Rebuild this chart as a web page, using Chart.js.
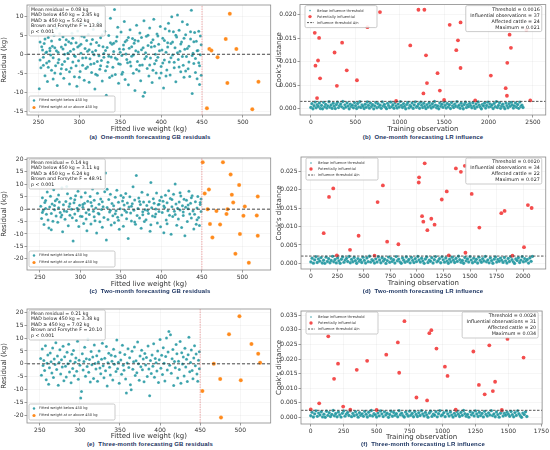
<!DOCTYPE html>
<html>
<head>
<meta charset="utf-8">
<script src="https://cdn.jsdelivr.net/npm/chart.js@4.4.1/dist/chart.umd.min.js"></script>
<style>
html, body { margin: 0; padding: 0; background: #fff; width: 550px; height: 450px; overflow: hidden; }
canvas { position: absolute; }
.cap { position: absolute; font: bold 6px "Liberation Sans", Arial, sans-serif; color: #1c3461;
       white-space: nowrap; transform: translate(-50%, -50%); letter-spacing: 0.15px; }
</style>
</head>
<body>
<canvas id="cA" width="275" height="134" style="left:0;top:0"></canvas>
<canvas id="cB" width="275" height="134" style="left:275px;top:0"></canvas>
<canvas id="cC" width="275" height="136" style="left:0;top:153px"></canvas>
<canvas id="cD" width="275" height="136" style="left:275px;top:152px"></canvas>
<canvas id="cE" width="275" height="137" style="left:0;top:304px"></canvas>
<canvas id="cF" width="275" height="136" style="left:275px;top:306px"></canvas>
<div class="cap" style="left:150px;top:137px">(a)&nbsp; One-month forecasting GB residuals</div>
<div class="cap" style="left:423px;top:137px">(b)&nbsp; One-month forecasting LR influence</div>
<div class="cap" style="left:150px;top:291px">(c)&nbsp; Two-month forecasting GB residuals</div>
<div class="cap" style="left:423px;top:291px">(d)&nbsp; Two-month forecasting LR influence</div>
<div class="cap" style="left:150px;top:444px">(e)&nbsp; Three-month forecasting GB residuals</div>
<div class="cap" style="left:423px;top:444px">(f)&nbsp; Three-month forecasting LR influence</div>
<script>
// ---- residual panels: [fitted weight kg, residual kg] ----
const belowA = [
  [251,-9.0],[252,3.2],[253,-3.5],[255,1.1],[256,-0.8],[257,2.8],[258,-5.6],[259,0.4],[254,6.2],[260,-2.3],
  [261,-7.1],[262,4.4],[263,-1.8],[264,0.9],[266,-4.2],[267,2.1],[268,-6.5],[269,5.0],[265,-0.2],[270,1.7],
  [271,-3.0],[272,6.8],[273,-8.2],[274,0.5],[275,-1.4],[276,3.9],[277,-5.1],[278,1.9],[279,-2.7],[280,4.6],
  [281,-6.3],[282,0.0],[283,2.5],[284,-4.0],[285,7.4],[286,-1.1],[287,3.3],[288,-7.8],[289,0.8],[290,-3.6],
  [291,5.5],[292,-2.0],[293,1.3],[294,-5.9],[295,-0.6],[296,3.0],[297,-8.4],[298,6.1],[299,-1.7],[300,2.2],
  [301,-4.5],[302,0.3],[303,4.8],[304,-2.9],[305,7.9],[306,-6.8],[307,1.5],[308,-0.9],[309,3.6],[310,-3.3],
  [311,5.2],[312,-7.3],[313,-1.2],[314,2.7],[315,-4.8],[316,0.6],[317,6.5],[318,-2.4],[319,-9.1],[320,1.0],
  [321,3.1],[322,-5.5],[323,8.3],[324,-0.4],[325,-3.9],[326,4.3],[327,-1.6],[328,-7.0],[329,2.0],[330,0.2],
  [331,6.0],[332,-4.3],[333,-10.7],[334,1.8],[335,-2.1],[336,4.9],[337,-6.1],[338,9.4],[339,-0.7],[340,2.6],
  [341,-3.4],[342,0.7],[343,11.7],[344,-5.3],[345,3.4],[346,-1.3],[347,7.1],[348,-7.6],[349,1.4],[350,-2.6],
  [351,5.8],[352,-0.3],[353,-4.7],[354,2.4],[355,8.6],[356,-6.6],[357,0.1],[358,3.7],[359,-2.2],[360,-8.0],
  [361,1.6],[362,6.4],[363,-3.1],[364,-0.5],[365,4.1],[366,-5.0],[367,2.9],[368,-9.5],[369,0.9],[370,7.6],
  [371,-1.9],[372,3.5],[373,-4.4],[374,5.6],[375,-6.9],[376,1.2],[377,-2.8],[378,-11.0],[379,8.8],[380,-10.0],
  [381,0.4],[382,4.7],[383,-3.7],[384,2.3],[385,-5.7],[386,6.9],[387,-1.0],[388,1.9],[389,-7.4],[390,3.8],
  [391,9.2],[392,-2.5],[393,0.0],[394,-4.9],[395,5.3],[396,-0.8],[397,2.6],[398,-6.2],[399,7.3],[400,-3.2],
  [401,1.1],[402,4.2],[403,-8.8],[404,-1.5],[405,6.7],[406,0.5],[407,-4.1],[408,3.0],[409,8.1],[410,-2.0],
  [411,-5.4],[412,2.8],[413,9.8],[414,-0.2],[415,5.9],[416,-3.5],[417,1.7],[418,-7.2],[419,4.5],[420,10.3],
  [421,-1.4],[422,6.3],[423,0.8],[424,-4.6],[425,3.2],[426,8.5],[427,-2.9],[428,-6.0],[429,1.3],[430,5.1],
  [431,-0.6],[432,7.8],[433,-3.8],[434,2.1],[435,-5.8],[436,4.0],[437,11.5],[438,-10.3],[439,0.3],[440,-2.4],
  [441,5.7],[442,-1.1],[443,3.4],[444,-6.4],[445,1.0],[446,6.0],[447,-3.0],[448,-0.1],[449,2.5],[447,-7.9],
  [252,-1.5],[254,2.0],[256,-2.9],[258,4.0],[260,0.6],[262,-3.4],[264,1.6],[266,3.5],[268,-0.9],[270,-4.9],
  [272,0.9],[274,-2.2],[276,5.4],[278,-3.8],[280,1.4],[282,-1.9],[284,3.8],[286,0.3],[288,-4.6],[290,2.9],
  [292,4.2],[294,-0.4],[296,-3.0],[298,1.9],[300,-6.0],[302,2.6],[304,-1.0],[306,4.5],[308,-3.7],[310,0.8],
  [312,1.2],[314,-2.6],[316,3.9],[318,-0.1],[320,-5.2],[322,-1.9],[324,2.3],[326,-3.0],[328,5.1],[330,-0.8],
  [332,1.0],[334,-3.2],[336,-0.5],[338,3.0],[340,-5.6],[342,2.9],[344,-1.0],[346,4.6],[348,-2.5],[350,0.5],
  [352,-5.2],[354,1.3],[356,3.3],[358,-1.4],[360,4.4],[362,-2.0],[364,2.0],[366,-0.2],[368,3.7],[370,-4.0],
  [372,0.6],[374,-2.9],[376,4.4],[378,1.7],[380,-1.2],[382,-0.6],[384,5.0],[386,-2.8],[388,3.1],[390,-4.2],
  [392,2.1],[394,-1.6],[396,4.8],[398,0.9],[400,-4.9],[402,-2.3],[404,3.6],[406,-5.7],[408,1.9],[410,6.1],
  [412,-0.9],[414,3.2],[416,-2.1],[418,5.0],[420,0.4],[422,-3.3],[424,2.7],[426,-0.6],[428,4.2],[430,-4.4],
  [432,1.5],[434,-2.0],[436,5.9],[438,-0.3],[440,3.3],[442,-4.8],[444,0.9],[446,-2.2],[448,4.8],[449,-5.5]
];
const aboveA = [
  [456,-14.1],[459,1.4],[461.5,1.0],[469,-0.8],[479,4.0],[481,-7.5],[484,10.6],[492,1.4],[511.5,-14.4],[519,-7.2]
];

const belowC = [
  [251,1.2],[252,-3.8],[253,4.6],[254,-0.5],[255,-6.2],[256,2.7],[257,0.3],[258,-2.1],[259,6.9],[260,-4.4],[253,-1.3],[257,3.5],
  [261,-7.6],[262,0.9],[263,5.2],[264,-1.7],[265,2.1],[266,-4.9],[267,7.8],[268,-0.2],[269,3.4],[270,-2.8],[264,-8.3],[268,1.5],
  [271,4.0],[272,-5.3],[273,0.6],[274,2.9],[275,-1.3],[276,-3.2],[277,8.6],[278,-9.1],[279,1.8],[280,-0.7],[273,5.7],[277,-2.4],
  [281,-4.1],[282,3.1],[283,-0.9],[284,6.2],[285,-6.7],[286,1.1],[287,-2.5],[288,4.4],[289,0.0],[290,-3.5],[283,9.1],[287,2.2],
  [291,-12.8],[292,2.6],[293,-1.9],[294,5.4],[295,-4.6],[296,0.4],[297,7.2],[298,-7.0],[299,1.6],[300,-2.9],[293,3.8],[297,-0.6],
  [301,4.9],[302,-3.0],[303,0.8],[304,-5.8],[305,2.4],[306,6.6],[307,-1.4],[308,-8.7],[309,3.2],[310,-0.3],[303,1.9],[307,-4.0],
  [311,-2.2],[312,5.1],[313,-6.0],[314,1.3],[315,8.1],[316,-0.8],[317,3.6],[318,-4.7],[319,0.5],[320,-9.6],[313,2.7],[317,-3.1],
  [321,6.4],[322,-1.6],[323,2.0],[324,-5.1],[325,4.1],[326,-0.1],[327,-7.3],[328,1.0],[329,-3.4],[330,7.0],[323,-2.0],[327,3.0],
  [331,14.6],[332,-12.4],[333,0.7],[334,-4.2],[335,3.9],[336,-1.1],[337,6.0],[338,-6.4],[339,2.3],[340,-2.7],[333,8.0],[337,-0.4],
  [341,1.4],[342,-5.5],[343,4.8],[344,-0.6],[345,7.6],[346,-3.3],[347,2.8],[348,-8.1],[349,0.2],[350,5.5],[343,-1.8],[347,-4.5],
  [351,-2.4],[352,3.3],[353,-6.9],[354,1.7],[355,-0.5],[356,6.3],[357,-3.9],[358,2.5],[359,-11.8],[360,0.9],[353,4.7],[357,-1.2],
  [361,5.0],[362,-1.5],[363,-4.8],[364,2.2],[365,9.0],[366,-0.4],[367,3.7],[368,-6.1],[369,13.6],[370,-2.6],[363,1.2],[367,-5.2],
  [371,0.3],[372,4.5],[373,-3.6],[374,1.9],[375,-7.7],[376,6.8],[377,-1.0],[378,2.9],[379,-5.0],[380,-0.2],[373,3.1],[377,-2.3],
  [381,-4.3],[382,1.5],[383,5.8],[384,-1.7],[385,3.0],[386,-8.9],[387,10.7],[388,0.6],[389,-2.8],[390,4.2],[383,-0.5],[387,-6.3],
  [391,2.4],[392,-3.1],[393,0.1],[394,6.5],[395,-5.6],[396,1.8],[397,-0.9],[398,3.5],[399,-7.1],[400,4.9],[393,-2.0],[397,2.0],
  [401,-1.3],[402,3.2],[403,-9.5],[404,0.7],[405,5.6],[406,-4.4],[407,2.6],[408,-0.6],[409,7.4],[410,-2.5],[403,1.3],[407,-5.9],
  [411,4.3],[412,-10.1],[413,1.0],[414,-3.0],[415,6.0],[416,-0.8],[417,10.1],[418,2.1],[419,-6.5],[420,0.4],[413,3.9],[417,-2.2],
  [421,-4.0],[422,2.9],[423,-0.3],[424,5.3],[425,-7.4],[426,1.4],[427,-2.6],[428,4.0],[429,-10.7],[430,0.8],[423,6.6],[427,-1.1],
  [431,3.6],[432,-5.0],[433,0.2],[434,7.2],[435,-1.9],[436,2.4],[437,-3.6],[438,5.4],[439,-0.7],[440,-8.0],[433,1.7],[437,4.6],
  [441,-2.1],[442,3.0],[443,-6.1],[444,0.5],[445,5.1],[446,-3.4],[447,-6.6],[448,1.9],[449,4.1],[449,-0.9],[444,-4.3],[448,2.7]
];
const aboveC = [
  [451,18.9],[476,18.9],[485.5,14.0],[496,9.7],[458.7,7.9],[453.5,6.3],[487,5.8],[519,5.1],[488.7,2.7],[503,1.1],
  [457,0.0],[481.6,0.0],[468,-0.7],[480.4,-1.9],[501.3,-2.7],[517.8,-2.6],[460,-6.0],[472.5,-6.2],[497,-10.0],
  [519,-10.7],[463,-11.4],[491.4,-18.0],[508,-21.6]
];

const belowE = [
  [251,2.1],[252,-4.4],[253,5.8],[254,-0.7],[255,1.3],[256,-2.6],[257,7.0],[258,-6.2],[259,0.2],[260,3.4],
  [261,-7.9],[262,-1.5],[263,4.2],[264,0.8],[265,-3.6],[266,6.1],[267,-5.3],[268,1.9],[269,-0.3],[270,8.2],
  [271,-2.2],[272,3.0],[273,-8.3],[274,0.5],[275,5.5],[276,-4.0],[277,1.6],[278,-1.2],[279,6.8],[280,-6.6],
  [281,2.7],[282,-0.9],[283,-5.1],[284,4.5],[285,0.0],[286,7.6],[287,-3.2],[288,1.1],[289,-7.4],[290,3.7],
  [291,-1.8],[292,5.2],[293,-4.6],[294,0.6],[295,2.3],[296,-2.9],[297,8.8],[298,-6.0],[299,1.4],[300,-0.6],
  [301,-13.3],[302,-10.8],[303,3.9],[304,-2.4],[305,0.9],[306,6.4],[307,-4.8],[308,2.0],[309,-1.0],[310,9.6],
  [311,-3.3],[312,1.7],[313,-7.1],[314,4.8],[315,-0.4],[316,2.6],[317,-5.7],[318,7.3],[319,0.1],[320,-2.0],
  [321,3.1],[322,-6.8],[323,0.7],[324,5.0],[325,-1.6],[326,-3.9],[327,1.8],[328,8.0],[329,-0.8],[330,-5.4],
  [331,2.2],[332,-2.7],[333,6.7],[334,-8.6],[335,0.4],[336,4.1],[337,-1.3],[338,-4.3],[339,3.3],[340,1.0],
  [341,-6.3],[342,5.7],[343,-0.2],[344,2.9],[345,-3.0],[346,9.3],[347,-1.9],[348,0.6],[349,-7.6],[350,4.4],
  [351,1.5],[352,-4.1],[353,7.2],[354,-0.6],[355,-2.5],[356,3.6],[357,-5.9],[358,-11.3],[359,0.3],[360,5.9],
  [361,-1.4],[362,2.4],[363,-8.1],[364,-10.1],[365,4.9],[366,-2.1],[367,0.8],[368,6.5],[369,-4.5],[370,1.2],
  [371,-3.5],[372,8.5],[373,0.0],[374,-6.4],[375,3.0],[376,-1.1],[377,5.3],[378,-2.3],[379,1.9],[380,-7.0],
  [381,4.0],[382,-0.5],[383,2.5],[384,-4.9],[385,6.9],[386,-2.0],[387,-12.4],[388,1.3],[389,-3.8],[390,3.4],
  [391,-0.9],[392,7.8],[393,-5.2],[394,2.1],[395,0.4],[396,-2.8],[397,5.0],[398,-7.3],[399,1.6],[400,9.4],
  [401,-1.7],[402,3.3],[403,-4.2],[404,6.2],[405,0.2],[406,-6.7],[407,2.8],[408,10.0],[409,-2.4],[410,4.6],
  [411,12.6],[412,-0.6],[413,11.3],[414,-3.7],[415,2.0],[416,5.6],[417,-8.4],[418,0.9],[419,-1.5],[420,7.5],
  [421,3.9],[422,-5.5],[423,1.0],[424,-2.2],[425,8.7],[426,-7.6],[427,4.3],[428,-0.1],[429,2.6],[430,-4.7],
  [431,6.0],[432,-1.2],[433,1.8],[434,-6.9],[435,3.5],[436,10.3],[437,-3.1],[438,0.5],[439,5.4],[440,-2.6],
  [441,-5.8],[442,2.3],[443,7.0],[444,-0.8],[445,3.8],[446,-4.0],[447,-6.8],[448,1.4],[449,4.7],[449,-1.9]
];
const aboveE = [
  [499,18.5],[486,11.5],[514,7.7],[522.4,3.9],[524.8,0.4],[467,0.0],[475,-5.9],[500.7,-6.4],[452.8,-10.6],[476,-20.9]
];

// ---- Cook's distance panels ----
// below-threshold observations, every strideX-th training observation
const strideB = 12;
const cookBelowB = [
  .00031,.00112,.00004,.00067,.00145,.00023,.00089,.00051,.00126,.00008,
  .00074,.00002,.00139,.00046,.00097,.00018,.00063,.00151,.00035,.00082,
  .00011,.00120,.00057,.00006,.00093,.00141,.00027,.00070,.00105,.00043,
  .00156,.00014,.00086,.00038,.00129,.00060,.00003,.00101,.00049,.00077,
  .00022,.00134,.00066,.00009,.00115,.00041,.00153,.00029,.00084,.00055,
  .00007,.00098,.00033,.00147,.00072,.00016,.00122,.00052,.00090,.00001,
  .00061,.00137,.00025,.00108,.00044,.00079,.00012,.00149,.00058,.00094,
  .00036,.00005,.00118,.00069,.00026,.00143,.00048,.00087,.00013,.00131,
  .00064,.00019,.00102,.00040,.00155,.00075,.00030,.00111,.00053,.00002,
  .00096,.00138,.00021,.00071,.00047,.00125,.00010,.00083,.00150,.00034,
  .00059,.00104,.00015,.00142,.00078,.00028,.00119,.00050,.00006,.00091,
  .00037,.00133,.00068,.00020,.00109,.00045,.00157,.00081,.00024,.00062,
  .00003,.00127,.00056,.00099,.00032,.00146,.00073,.00017,.00114,.00042,
  .00088,.00009,.00136,.00065,.00027,.00100,.00054,.00152,.00039,.00076,
  .00014,.00121,.00060,.00004,.00092,.00140,.00031,.00085,.00048,.00116,
  .00067,.00022,.00130,.00057,.00011,.00106,.00044,.00148,.00080,.00035,
  .00001,.00095,.00063,.00124,.00019,.00071,.00144,.00038,.00103,.00052,
  .00086,.00008,.00117,.00046,.00154,.00029,.00074,.00132,.00015,.00061,
  .00099,.00041,.00005,.00123,.00069,.00025,.00110,.00055,.00139,.00083,
  .00018,.00064,.00128,.00036,.00093,.00012,.00145,.00050,.00077,.00030
];
const cookHighB = [
  [44,.0162],[93,.0151],[52,.0092],[81,.0103],[104,.0065],[70,.0023],[267,.0120],[352,.0141],[293,.0049],
  [404,.0082],[519,.0061],[637,.0174],[778,.0206],[1119,.0135],[1211,.0211],[1278,.0211],[1267,.0033],
  [1296,.0114],[1307,.0055],[1426,.0076],[1452,.0039],[1563,.0179],[1637,.0125],[1656,.0146],[1685,.0184],
  [1685,.0087],[2026,.0071],[2193,.0044],[2207,.0028],[2211,.0098],[2237,.0158],[2252,.0130],[2426,.0168],
  [2470,.0018],[960,.0017],[1500,.0019],[1850,.0018]
];

const strideD = 12;
const cookBelowD = [
  .00042,.00141,.00008,.00097,.00183,.00026,.00119,.00063,.00159,.00012,
  .00088,.00003,.00171,.00054,.00128,.00021,.00079,.00192,.00045,.00106,
  .00015,.00150,.00068,.00006,.00115,.00178,.00033,.00091,.00137,.00051,
  .00187,.00018,.00110,.00047,.00162,.00074,.00004,.00131,.00059,.00098,
  .00027,.00168,.00083,.00010,.00146,.00049,.00193,.00036,.00104,.00070,
  .00009,.00124,.00040,.00181,.00093,.00020,.00155,.00065,.00114,.00002,
  .00077,.00172,.00031,.00135,.00056,.00101,.00014,.00186,.00072,.00118,
  .00044,.00006,.00148,.00087,.00032,.00176,.00060,.00109,.00016,.00164,
  .00081,.00023,.00129,.00050,.00190,.00094,.00037,.00140,.00066,.00003,
  .00121,.00174,.00026,.00089,.00058,.00157,.00012,.00103,.00185,.00043,
  .00073,.00132,.00019,.00179,.00097,.00035,.00149,.00062,.00007,.00113,
  .00046,.00166,.00085,.00025,.00136,.00055,.00194,.00100,.00030,.00078,
  .00004,.00160,.00069,.00123,.00039,.00182,.00091,.00021,.00143,.00052,
  .00111,.00011,.00170,.00082,.00034,.00126,.00067,.00189,.00048,.00095,
  .00017,.00152,.00075,.00005,.00116,.00175,.00038,.00107,.00060,.00145,
  .00084,.00028,.00163,.00071,.00013,.00133,.00054,.00184,.00099,.00044,
  .00001,.00120,.00079,.00156,.00024,.00090,.00180,.00047,.00130,.00064,
  .00108,.00010,.00147,.00057,.00191
];
const cookHighD = [
  [121,.0082],[171,.0180],[211,.0203],[245,.0022],[369,.0037],[450,.0075],[629,.0166],[679,.0211],[719,.0059],
  [825,.0052],[1017,.0219],[1020,.0233],[1073,.0271],[1048,.0128],[1060,.0113],[1098,.0090],[1135,.0121],
  [1166,.0105],[1234,.0173],[1281,.0195],[1367,.0257],[1414,.0248],[1451,.0264],[1457,.0029],[1516,.0188],
  [1588,.0097],[1795,.0136],[1826,.0142],[2009,.0044],[2046,.0158],[2081,.0150],[600,.0021],[1300,.0022],[1900,.0021]
];

const strideF = 10;
const cookBelowF = [
  .00051,.00172,.00009,.00118,.00221,.00032,.00144,.00077,.00193,.00014,
  .00106,.00004,.00206,.00066,.00155,.00025,.00096,.00231,.00055,.00128,
  .00018,.00181,.00083,.00007,.00139,.00214,.00040,.00110,.00166,.00062,
  .00226,.00022,.00133,.00057,.00196,.00090,.00005,.00158,.00072,.00119,
  .00033,.00203,.00101,.00012,.00176,.00060,.00232,.00044,.00126,.00085,
  .00011,.00150,.00049,.00218,.00113,.00024,.00187,.00079,.00138,.00003,
  .00094,.00208,.00038,.00163,.00068,.00122,.00017,.00224,.00087,.00143,
  .00053,.00008,.00179,.00105,.00039,.00212,.00073,.00132,.00020,.00198,
  .00098,.00028,.00156,.00061,.00229,.00114,.00045,.00169,.00080,.00004,
  .00146,.00210,.00031,.00108,.00070,.00190,.00015,.00124,.00223,.00052,
  .00088,.00160,.00023,.00216,.00117,.00042,.00180,.00075,.00009,.00136,
  .00056,.00201,.00103,.00030,.00165,.00067,.00234,.00121,.00036,.00094,
  .00005,.00193,.00084,.00149,.00047,.00219,.00111,.00026,.00173,.00063,
  .00134,.00013,.00205,.00099,.00041,.00152,.00081,.00228,.00058,.00115,
  .00021,.00184,.00091,.00006,.00140,.00211,.00046,.00129,.00072,.00175,
  .00102,.00034,.00197,.00086,.00016,.00161,.00065,.00222,.00120,.00054,
  .00001,.00145,.00095,.00188,.00029
];
const cookHighF = [
  [0,.0027],[64,.0048],[133,.0278],[177,.0132],[207,.0184],[246,.0037],[349,.0163],[428,.0194],[573,.0215],
  [661,.0257],[671,.0153],[711,.0330],[802,.0068],[883,.0058],[900,.0289],[915,.0299],[954,.0236],[1018,.0174],
  [1038,.0142],[1234,.0226],[1276,.0111],[1320,.0079],[1355,.0247],[1382,.0090],[1399,.0122],[1493,.0269],
  [1615,.0205],[300,.0026],[500,.0025],[1100,.0026],[1450,.0025]
];

// ---- tick labels ----
const weightTicks = [250, 300, 350, 400, 450, 500];
const residTicksA = [-15, -10, -5, 0, 5, 10];
const residTicksCE = [-20, -15, -10, -5, 0, 5, 10, 15, 20];
const obsTicksB = [0, 500, 1000, 1500, 2000, 2500];
const obsTicksDF = [0, 250, 500, 750, 1000, 1250, 1500, 1750, 2000];
const cookTicks = [0, 0.005, 0.010, 0.015, 0.020, 0.025, 0.030, 0.035];

// ---- annotation texts ----
const statsA = ['Mean residual = 0.08 kg', 'MAD below 450 kg = 2.85 kg', 'MAD \u2265 450 kg = 5.62 kg', 'Brown and Forsythe F = 13.88', 'p < 0.001'];
const statsC = ['Mean residual = 0.14 kg', 'MAD below 450 kg = 3.11 kg', 'MAD \u2265 450 kg = 6.24 kg', 'Brown and Forsythe F = 48.91', 'p < 0.001'];
const statsE = ['Mean residual = 0.21 kg', 'MAD below 450 kg = 3.38 kg', 'MAD \u2265 450 kg = 7.02 kg', 'Brown and Forsythe F = 20.10', 'p < 0.001'];
const cookStatsB = ['Threshold = 0.0016', 'Influential observations = 37', 'Affected cattle = 24', 'Maximum = 0.021'];
const cookStatsD = ['Threshold = 0.0020', 'Influential observations = 34', 'Affected cattle = 22', 'Maximum = 0.027'];
const cookStatsF = ['Threshold = 0.0024', 'Influential observations = 31', 'Affected cattle = 20', 'Maximum = 0.034'];

const TEAL = 'rgba(24,146,156,0.85)';
const ORANGE = '#ff8a1c';
const RED = 'rgba(243,58,58,0.9)';
const GRID = 'rgba(0,0,0,0.07)';
const FONT = '"DejaVu Sans", Verdana, sans-serif';

function roundBox(ctx, x, y, w, h) {
  ctx.beginPath();
  ctx.roundRect(x, y, w, h, 1.5);
  ctx.fillStyle = 'rgba(255,255,255,0.88)';
  ctx.fill();
  ctx.strokeStyle = '#b5b5b5';
  ctx.lineWidth = 0.7;
  ctx.stroke();
}

const framePlugin = {
  id: 'frame',
  afterDatasetsDraw(chart) {
    const a = chart.chartArea, c = chart.ctx;
    c.save();
    c.strokeStyle = '#8a8a8a';
    c.lineWidth = 0.8;
    c.strokeRect(a.left, a.top, a.right - a.left, a.bottom - a.top);
    c.restore();
  }
};

function axes(o) {
  return {
    x: {
      type: 'linear', min: o.xMin, max: o.xMax,
      afterBuildTicks: s => { s.ticks = o.xTicks.filter(v => v >= o.xMin && v <= o.xMax).map(v => ({ value: v })); },
      afterFit: s => { s.height = o.xH; },
      ticks: { font: { family: FONT, size: 6 }, color: '#333', padding: 1, maxRotation: 0, autoSkip: false,
               callback: v => String(v) },
      grid: { color: GRID, lineWidth: 0.5, tickLength: 2.5, tickColor: '#555', tickWidth: 0.6 },
      border: { display: false },
      title: { display: true, text: o.xTitle, font: { family: FONT, size: 7 }, color: '#333', padding: { top: 0, bottom: 1 } }
    },
    y: {
      type: 'linear', min: o.yMin, max: o.yMax,
      afterBuildTicks: s => { s.ticks = o.yTicks.filter(v => v >= o.yMin && v <= o.yMax).map(v => ({ value: v })); },
      afterFit: s => { s.width = o.yW; },
      ticks: { font: { family: FONT, size: 6 }, color: '#333', padding: 1, autoSkip: false, callback: o.yFmt },
      grid: { color: GRID, lineWidth: 0.5, tickLength: 2.5, tickColor: '#555', tickWidth: 0.6 },
      border: { display: false },
      title: { display: true, text: o.yTitle, font: { family: FONT, size: 7 }, color: '#333', padding: 0 }
    }
  };
}

function residualChart(id, o) {
  const overlay = {
    id: 'residOverlay',
    afterDraw(chart) {
      const a = chart.chartArea, c = chart.ctx;
      c.save();
      // stats box, upper left
      c.font = '4.7px ' + FONT;
      const w = Math.max(...o.stats.map(t => c.measureText(t).width)) + 5;
      roundBox(c, a.left + 2, a.top + 1, w, 30);
      c.fillStyle = '#222';
      c.textBaseline = 'middle';
      o.stats.forEach((t, i) => c.fillText(t, a.left + 4, a.top + 4.3 + i * 5.6));
      // legend, lower left
      roundBox(c, a.left + 2, a.bottom - 19, 86, 16);
      c.font = '3.6px ' + FONT;
      c.fillStyle = TEAL;
      c.beginPath(); c.arc(a.left + 7, a.bottom - 14.5, 1.2, 0, 2 * Math.PI); c.fill();
      c.fillStyle = ORANGE;
      c.beginPath(); c.arc(a.left + 7, a.bottom - 7.5, 1.6, 0, 2 * Math.PI); c.fill();
      c.fillStyle = '#333';
      c.fillText('Fitted weight below 450 kg', a.left + 12, a.bottom - 14.5);
      c.fillText('Fitted weight at or above 450 kg', a.left + 12, a.bottom - 7.5);
      c.restore();
    }
  };
  new Chart(document.getElementById(id), {
    type: 'scatter',
    data: {
      datasets: [
        { data: [{ x: o.xMin, y: 0 }, { x: o.xMax, y: 0 }], showLine: true, pointRadius: 0,
          borderColor: '#333', borderWidth: 0.9, borderDash: [3, 2] },
        { data: [{ x: 450, y: o.yMin }, { x: 450, y: o.yMax }], showLine: true, pointRadius: 0,
          borderColor: 'rgba(232,100,100,0.65)', borderWidth: 0.8, borderDash: [1.5, 1] },
        { label: 'Fitted weight at or above 450 kg', data: o.above.map(p => ({ x: p[0], y: p[1] })),
          backgroundColor: ORANGE, borderColor: 'rgba(255,230,200,0.8)', borderWidth: 0.3, pointRadius: 2 },
        { label: 'Fitted weight below 450 kg', data: o.below.map(p => ({ x: p[0], y: p[1] })),
          backgroundColor: TEAL, borderColor: 'rgba(255,255,255,0.5)', borderWidth: 0.3, pointRadius: 1.5 }
      ]
    },
    options: {
      responsive: false, animation: false, events: [],
      layout: { padding: { top: o.padTop, right: 1, left: 0, bottom: 0 } },
      plugins: { legend: { display: false }, tooltip: { enabled: false } },
      scales: axes(Object.assign({ xTitle: 'Fitted live weight (kg)', yTitle: 'Residual (kg)',
                                   xTicks: weightTicks, yFmt: v => String(v) }, o))
    },
    plugins: [framePlugin, overlay]
  });
}

function cookChart(id, o) {
  const overlay = {
    id: 'cookOverlay',
    afterDraw(chart) {
      const a = chart.chartArea, c = chart.ctx;
      c.save();
      // legend, upper left
      roundBox(c, a.left + 5, a.top + 1, 72, 22);
      c.textBaseline = 'middle';
      c.fillStyle = TEAL;
      c.beginPath(); c.arc(a.left + 10, a.top + 6, 0.8, 0, 2 * Math.PI); c.fill();
      c.fillStyle = RED;
      c.beginPath(); c.arc(a.left + 10, a.top + 12, 1.7, 0, 2 * Math.PI); c.fill();
      c.strokeStyle = '#444'; c.lineWidth = 0.9; c.setLineDash([2, 1.2]);
      c.beginPath(); c.moveTo(a.left + 7, a.top + 18); c.lineTo(a.left + 14, a.top + 18); c.stroke();
      c.setLineDash([]);
      c.fillStyle = '#333';
      c.font = '3.6px ' + FONT;
      c.fillText('Below influence threshold', a.left + 17, a.top + 6);
      c.fillText('Potentially influential', a.left + 17, a.top + 12);
      c.fillText('Influence threshold 4/n', a.left + 17, a.top + 18);
      // stats box, upper right
      roundBox(c, a.right - 80, a.top + 1, 76, 26);
      c.fillStyle = '#222';
      c.font = '4.8px ' + FONT;
      c.textAlign = 'right';
      o.stats.forEach((t, i) => c.fillText(t, a.right - 6, a.top + 5 + i * 6));
      c.restore();
    }
  };
  new Chart(document.getElementById(id), {
    type: 'scatter',
    data: {
      datasets: [
        { data: [{ x: o.xMin, y: o.thr }, { x: o.xMax, y: o.thr }], showLine: true, pointRadius: 0,
          borderColor: '#444', borderWidth: 0.9, borderDash: [2.5, 1.5] },
        { label: 'Potentially influential', data: o.high.map(p => ({ x: p[0], y: p[1] })),
          backgroundColor: RED, borderWidth: 0, pointRadius: 1.9 },
        { label: 'Below influence threshold', data: o.below.map((v, i) => ({ x: i * o.stride, y: v })),
          backgroundColor: 'rgba(24,146,156,0.9)', borderColor: 'rgba(255,255,255,0.6)', borderWidth: 0.25, pointRadius: 1.7 }
      ]
    },
    options: {
      responsive: false, animation: false, events: [],
      layout: { padding: { top: o.padTop, right: 1, left: 0, bottom: 0 } },
      plugins: { legend: { display: false }, tooltip: { enabled: false } },
      scales: axes(Object.assign({ xTitle: 'Training observation', yTitle: "Cook's distance",
                                   yTicks: cookTicks, yFmt: v => v.toFixed(3) }, o))
    },
    plugins: [framePlugin, overlay]
  });
}

residualChart('cA', { below: belowA, above: aboveA, stats: statsA, xMin: 236, xMax: 534, yMin: -15.9, yMax: 12.9,
                      yTicks: residTicksA, yW: 27, xH: 19, padTop: 5 });
residualChart('cC', { below: belowC, above: aboveC, stats: statsC, xMin: 234, xMax: 535, yMin: -24.5, yMax: 20.6,
                      yTicks: residTicksCE, yW: 27, xH: 19, padTop: 5 });
residualChart('cE', { below: belowE, above: aboveE, stats: statsE, xMin: 234, xMax: 538, yMin: -23, yMax: 21.3,
                      yTicks: residTicksCE, yW: 27, xH: 18, padTop: 5 });
cookChart('cB', { below: cookBelowB, stride: strideB, high: cookHighB, thr: 0.0016, stats: cookStatsB,
                  xMin: -122, xMax: 2644, yMin: -0.0013, yMax: 0.0222, xTicks: obsTicksB, yW: 25, xH: 19, padTop: 4 });
cookChart('cD', { below: cookBelowD, stride: strideD, high: cookHighD, thr: 0.0020, stats: cookStatsD,
                  xMin: -93, xMax: 2214, yMin: -0.0015, yMax: 0.0288, xTicks: obsTicksDF, yW: 26, xH: 19, padTop: 5 });
cookChart('cF', { below: cookBelowF, stride: strideF, high: cookHighF, thr: 0.0024, stats: cookStatsF,
                  xMin: -74, xMax: 1756, yMin: -0.0023, yMax: 0.0365, xTicks: obsTicksDF, yW: 26, xH: 18, padTop: 5 });
</script>
</body>
</html>
